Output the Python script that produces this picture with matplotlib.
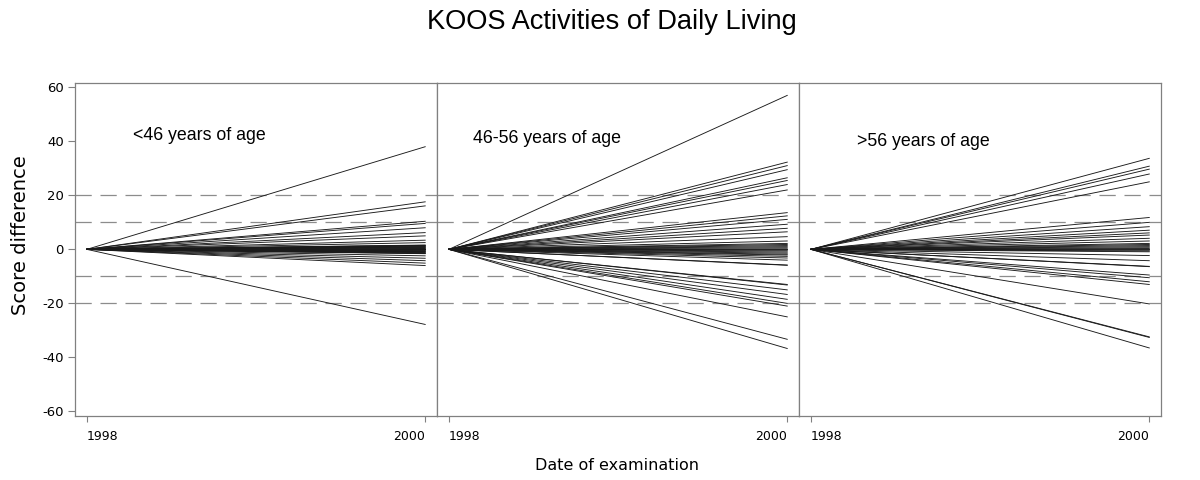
import matplotlib
matplotlib.use("Agg")
import matplotlib.pyplot as plt

# end values (score difference in 2000, all lines start at 0 in 1998)
years = [1998, 2000]
panel_labels = ["<46 years of age", "46-56 years of age", ">56 years of age"]
young = [38, 17.6, 16.1, 10.4, 9.6, 8, 6.2, 5, 3.4, 2.5,
         1.6, 1.5, 1.4, 1.2, 1.0, 0.9, 0.8, 0.6, 0.5, 0.3, 0.2, 0, 0, -0.2,
         -0.3, -0.5, -0.6, -0.8, -0.9, -1.0, -1.2, -1.4, -1.5, -1.6,
         -2.4, -3.3, -4.2, -5.1, -6, -27.8]
middle = [57, 32.3, 31, 29.5, 26.5, 25.5, 24, 22, 13.6, 12.4, 11.1, 9.3,
          7.8, 6.5, 4.7, 3.1, 2.2, 1.8, 1.4, 1.0, 0.6, 0.2, 0, -0.3, -0.6,
          -1.0, -1.4, -1.8, -2.1, -2.6, -3.2, -4, -5.8, -5.9, -13, -13.2,
          -15, -16.7, -18.5, -20, -21, -25, -33.3, -36.7]
old = [33.7, 30.8, 29.7, 27.9, 25, 11.8, 10, 8.4, 7.1, 6.1, 5.3, 4.1, 3.1,
       2.2, 1.8, 1.4, 1.0, 0.6, 0.3, 0, -0.3, -0.6, -0.9, -2.3, -4.2,
       -6.3, -6.4, -9.5, -10.5, -12, -13, -20.2, -32.4, -32.6, -36.5]
groups = [young, middle, old]
ref_lines = [-20, -10, 10, 20]
y_ticks = [-60, -40, -20, 0, 20, 40, 60]
label_pos = [(1998.27, 42), (1998.14, 41), (1998.27, 40)]

fig = plt.figure(figsize=(12, 4.8), dpi=100)
lefts = [0.0625, 0.3642, 0.6659]
frame = "#808080"

for i, ends in enumerate(groups):
    ax = fig.add_axes([lefts[i], 0.1333, 0.3017, 0.6944])
    for v in ref_lines:
        ax.axhline(v, color="#8c8c8c", lw=0.9, dashes=(13, 7), zorder=1)
    for e in ends:
        ax.plot(years, [0, e], color="#1a1a1a", lw=0.65, zorder=2)
    ax.set_xlim(1997.93, 2000.07)
    ax.set_ylim(-61.7, 61.7)
    ax.set_xticks(years)
    ax.set_xticklabels(["1998", "2000"], fontsize=9)
    tl = ax.get_xticklabels()
    tl[0].set_ha("left")
    tl[1].set_ha("right")
    ax.tick_params(axis="x", length=4, color=frame, pad=6)
    if i == 0:
        ax.set_yticks(y_ticks)
        ax.set_yticklabels([str(t) for t in y_ticks], fontsize=9.5)
        ax.tick_params(axis="y", length=5, color=frame, pad=3)
        ax.set_ylabel("Score difference", fontsize=14)
        ax.yaxis.set_label_coords(-0.125, 0.543)
    else:
        ax.set_yticks([])
    for s in ax.spines.values():
        s.set_color(frame)
        s.set_linewidth(0.9)
    ax.text(label_pos[i][0], label_pos[i][1], panel_labels[i],
            fontsize=12.8, family="Liberation Sans", va="center")

fig.text(0.51, 0.955, "KOOS Activities of Daily Living", ha="center",
         va="center", fontsize=19.6, family="Liberation Sans")
fig.text(0.514, 0.03, "Date of examination", ha="center", va="center",
         fontsize=11.5)

fig.savefig("out.png", dpi=100)
